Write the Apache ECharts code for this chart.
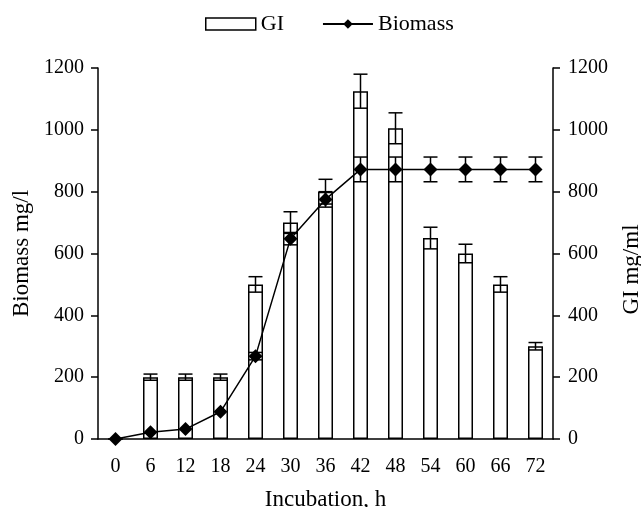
<!DOCTYPE html>
<html>
<head>
<meta charset="utf-8">
<script src="https://cdn.jsdelivr.net/npm/echarts@6/dist/echarts.min.js"></script>
<style>
  html, body { margin: 0; padding: 0; background: #fff; }
  #chart { width: 641px; height: 507px; }
</style>
</head>
<body>
<div id="chart"></div>
<script>
// incubation time, h
var hours = ['0', '6', '12', '18', '24', '30', '36', '42', '48', '54', '60', '66', '72'];
// GI mg/ml (bars, right axis) and its error
var gi = [0, 200, 200, 200, 500, 700, 800, 1125, 1005, 650, 600, 500, 300];
var giErr = [0, 10, 10, 10, 25, 35, 40, 55, 50, 35, 30, 25, 12];
// Biomass mg/l (line, left axis) and its error
var biomass = [0, 22, 32, 88, 268, 648, 775, 872, 872, 872, 872, 872, 872];
var bioErr = [0, 0, 0, 0, 12, 20, 25, 40, 40, 40, 40, 40, 40];

var font = 'Liberation Serif';

function errData(vals, errs) {
    var out = [];
    for (var i = 0; i < vals.length; i++) {
        if (errs[i] > 0) out.push([i, vals[i] - errs[i], vals[i] + errs[i]]);
    }
    return out;
}

function renderErr(params, api) {
    var lo = api.coord([api.value(0), api.value(1)]);
    var hi = api.coord([api.value(0), api.value(2)]);
    var cap = 7;
    var style = { stroke: '#000', lineWidth: 1.5 };
    return {
        type: 'group',
        children: [
            { type: 'line', shape: { x1: hi[0], y1: hi[1], x2: lo[0], y2: lo[1] }, style: style },
            { type: 'line', shape: { x1: hi[0] - cap, y1: hi[1], x2: hi[0] + cap, y2: hi[1] }, style: style },
            { type: 'line', shape: { x1: lo[0] - cap, y1: lo[1], x2: lo[0] + cap, y2: lo[1] }, style: style }
        ]
    };
}

var chart = echarts.init(document.getElementById('chart'));

var yAxisBase = {
    type: 'value',
    min: 0,
    max: 1200,
    interval: 200,
    nameLocation: 'middle',
    nameRotate: 90,
    axisLine: { show: true, lineStyle: { color: '#000', width: 1.5 } },
    axisTick: { show: true, length: 7, lineStyle: { color: '#000', width: 1.5 } },
    splitLine: { show: false }
};

chart.setOption({
    animation: false,
    textStyle: { fontFamily: font },
    legend: {
        top: 8,
        left: 200,
        itemGap: 38,
        itemWidth: 50,
        itemHeight: 12,
        textStyle: { color: '#000', fontFamily: font, fontSize: 22 },
        data: [
            { name: 'GI', icon: 'rect', itemStyle: { color: '#fff', borderColor: '#000', borderWidth: 1.5 } },
            { name: 'Biomass' }
        ]
    },
    grid: { left: 98, right: 88, top: 68, bottom: 68, containLabel: false, outerBoundsMode: 'none' },
    xAxis: {
        type: 'category',
        data: hours,
        name: 'Incubation, h',
        nameLocation: 'middle',
        nameGap: 49,
        nameTextStyle: { color: '#000', fontFamily: font, fontSize: 23 },
        axisLine: { lineStyle: { color: '#000', width: 1.5 } },
        axisTick: { length: 7, lineStyle: { color: '#000', width: 1.5 } },
        axisLabel: { color: '#000', fontFamily: font, fontSize: 20, margin: 18 }
    },
    yAxis: [
        Object.assign({}, yAxisBase, {
            position: 'left',
            name: 'Biomass mg/l',
            nameGap: 63,
            nameTextStyle: { color: '#000', fontFamily: font, fontSize: 23 },
            axisLabel: { color: '#000', fontFamily: font, fontSize: 20, margin: 14,
                formatter: function (v) { return String(v); } }
        }),
        Object.assign({}, yAxisBase, {
            position: 'right',
            name: 'GI mg/ml',
            nameGap: 67,
            nameTextStyle: { color: '#000', fontFamily: font, fontSize: 23, padding: [0, 32, 0, 0] },
            axisLabel: { color: '#000', fontFamily: font, fontSize: 20, margin: 15,
                formatter: function (v) { return String(v); } }
        })
    ],
    series: [
        {
            name: 'GI',
            type: 'bar',
            yAxisIndex: 1,
            data: gi,
            barWidth: 15,
            itemStyle: { color: '#fff', borderColor: '#000', borderWidth: 1.5 }
        },
        {
            type: 'custom',
            yAxisIndex: 1,
            renderItem: renderErr,
            data: errData(gi, giErr),
            z: 3
        },
        {
            name: 'Biomass',
            type: 'line',
            yAxisIndex: 0,
            data: biomass,
            symbol: 'diamond',
            symbolSize: 14,
            itemStyle: { color: '#000' },
            lineStyle: { color: '#000', width: 1.5 },
            z: 4
        },
        {
            type: 'custom',
            yAxisIndex: 0,
            renderItem: renderErr,
            data: errData(biomass, bioErr),
            z: 5
        }
    ]
});
</script>
</body>
</html>
